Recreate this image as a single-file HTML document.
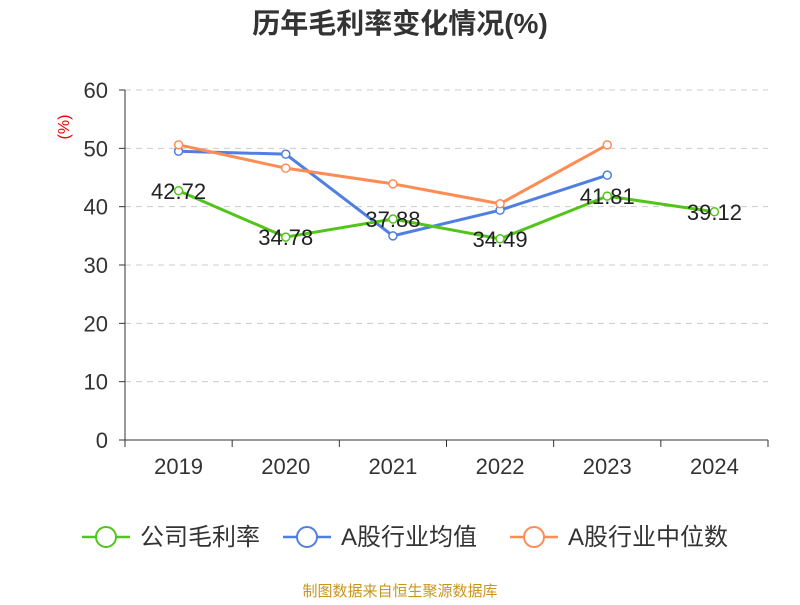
<!DOCTYPE html>
<html><head><meta charset="utf-8"><style>
body{margin:0;background:#fff;width:800px;height:600px;overflow:hidden;font-family:"Liberation Sans","Noto Sans CJK SC",sans-serif}
</style></head><body>
<svg id="c" width="800" height="600" xmlns="http://www.w3.org/2000/svg">
<text x="400" y="33" text-anchor="middle" font-size="28" font-weight="bold" fill="#333" font-family="Liberation Sans,Noto Sans CJK SC,sans-serif">历年毛利率变化情况(%)</text>
<text transform="translate(69,127) rotate(-90)" text-anchor="middle" font-size="16" fill="#e00">(%)</text>
<g id="grid"></g><g id="axes"></g><g id="series"></g><g id="legend"></g>
<text x="400" y="596" text-anchor="middle" font-size="15" fill="#c8961e" font-family="Liberation Sans,Noto Sans CJK SC,sans-serif">制图数据来自恒生聚源数据库</text>
</svg>
<script>
const categories=["2019","2020","2021","2022","2023","2024"];
const company=[42.72,34.78,37.88,34.49,41.81,39.12];
const industryAvg=[49.5,49.0,35.0,39.4,45.4,null];
const industryMedian=[50.6,46.6,43.9,40.5,50.6,null];
const yTicks=[0,10,20,30,40,50,60];
const NS="http://www.w3.org/2000/svg";
const L=125,R=768,T=90,B=440,ymax=60;
const bw=(R-L)/categories.length;
const xp=i=>L+bw*(i+0.5);
const yp=v=>B-(v/ymax)*(B-T);
function mk(t,a,p){const e=document.createElementNS(NS,t);for(const k in a)e.setAttribute(k,a[k]);p.appendChild(e);return e;}
const grid=document.getElementById('grid'),axes=document.getElementById('axes'),ser=document.getElementById('series'),leg=document.getElementById('legend');
yTicks.forEach(v=>{
 const y=yp(v);
 if(v>0){const g=mk('line',{x1:L,x2:R,y1:y,y2:y,stroke:'#ccc','stroke-dasharray':'6,5'},grid);
 
 }
 const tk=mk('line',{x1:L-6,x2:L,y1:y,y2:y,stroke:'#333'},axes);
 
 
 const t=mk('text',{x:L-17,y:y+8,'text-anchor':'end','font-size':22,fill:'#333'},axes);t.textContent=v;
 
 
});
const ya=mk('line',{x1:L,x2:L,y1:T,y2:B,stroke:'#333'},axes);


const xa=mk('line',{x1:L,x2:R,y1:B,y2:B,stroke:'#333'},axes);


for(let i=0;i<=categories.length;i++){const tk=mk('line',{x1:L+bw*i,x2:L+bw*i,y1:B,y2:B+7,stroke:'#333'},axes);
 
 }
categories.forEach((c,i)=>{const t=mk('text',{x:xp(i),y:B+34,'text-anchor':'middle','font-size':22,fill:'#333'},axes);t.textContent=c;
 
 });
function series(data,color,name,labels){
 const g=mk('g',{},ser);
 
 
 const pts=data.map((v,i)=>v==null?null:[xp(i),yp(v)]).filter(p=>p);
 mk('polyline',{points:pts.map(p=>p.join(',')).join(' '),fill:'none',stroke:color,'stroke-width':3},g);
 data.forEach((v,i)=>{if(v==null)return;
  const c=mk('circle',{cx:xp(i),cy:yp(v),r:4,fill:'#fff',stroke:color,'stroke-width':1.5},g);
  
  
  if(labels){const t=mk('text',{x:xp(i),y:yp(v)+8,'text-anchor':'middle','font-size':22,fill:'#222'},g);t.textContent=v.toFixed(2);
   
   }
 });
}
series(industryAvg,'#4f7fe0','industry-average-line',false);
series(industryMedian,'#ff8c55','industry-median-line',false);
series(company,'#52c41a','company-margin-line',true);
const items=[['公司毛利率','#52c41a',82],['A股行业均值','#4f7fe0',283],['A股行业中位数','#ff8c55',510]];
items.forEach(([n,c,x])=>{
 const g=mk('g',{},leg);
 
 
 mk('line',{x1:x,x2:x+48,y1:537,y2:537,stroke:c,'stroke-width':2.5},g);
 mk('circle',{cx:x+24,cy:537,r:10,fill:'#fff',stroke:c,'stroke-width':2},g);
 const t=mk('text',{x:x+58,y:545,'font-size':24,fill:'#333'},g);t.textContent=n;
});
</script>
</body></html>
